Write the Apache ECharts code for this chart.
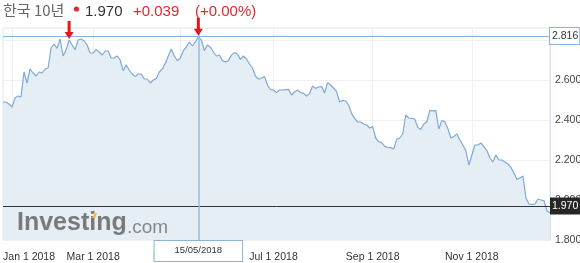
<!DOCTYPE html>
<html><head><meta charset="utf-8">
<script src="https://cdn.jsdelivr.net/npm/echarts@6/dist/echarts.min.js"></script>
<style>html,body{margin:0;padding:0;background:#fff}#c{width:580px;height:263px}</style>
</head><body><div id="c"></div>
<script>
// ---- data ----
const yields = [
  2.49, 2.49, 2.48, 2.465, 2.51, 2.52, 2.515, 2.64, 2.585, 2.655,
  2.635, 2.62, 2.64, 2.635, 2.655, 2.66, 2.76, 2.78, 2.758, 2.805,
  2.72, 2.75, 2.80, 2.775, 2.752, 2.80, 2.805, 2.795, 2.775, 2.735,
  2.735, 2.753, 2.74, 2.725, 2.745, 2.745, 2.71, 2.71, 2.72, 2.70,
  2.647, 2.675, 2.65, 2.63, 2.617, 2.63, 2.63, 2.605, 2.605, 2.585,
  2.60, 2.608, 2.64, 2.655, 2.683, 2.72, 2.755, 2.72, 2.696, 2.71,
  2.747, 2.765, 2.79, 2.77, 2.79, 2.816, 2.80, 2.747, 2.775, 2.764,
  2.74, 2.72, 2.725, 2.697, 2.69, 2.697, 2.725, 2.737, 2.73, 2.703,
  2.72, 2.705, 2.68, 2.66, 2.62, 2.604, 2.61, 2.617, 2.575, 2.552,
  2.55, 2.537, 2.55, 2.55, 2.552, 2.553, 2.525, 2.54, 2.55, 2.537,
  2.533, 2.52, 2.532, 2.57, 2.558, 2.565, 2.567, 2.535, 2.587, 2.575,
  2.56, 2.542, 2.49, 2.498, 2.495, 2.475, 2.432, 2.408, 2.39, 2.39,
  2.38, 2.375, 2.36, 2.367, 2.31, 2.292, 2.287, 2.268, 2.263, 2.262,
  2.255, 2.303, 2.31, 2.33, 2.425, 2.41, 2.408, 2.405, 2.363, 2.353,
  2.38, 2.39, 2.448, 2.446, 2.447, 2.355, 2.397, 2.392, 2.358, 2.31,
  2.317, 2.33, 2.30, 2.275, 2.247, 2.175, 2.225, 2.275, 2.275, 2.285,
  2.267, 2.247, 2.21, 2.19, 2.225, 2.20, 2.20, 2.19, 2.18, 2.163,
  2.135, 2.103, 2.11, 2.12, 2.01, 1.98, 1.978, 1.98, 2.005, 2.00,
  1.997, 1.945, 1.937
];
// dates of the samples: anchor dates and the sample numbers they fall on
const anchorDates   = ['2017-12-26','2018-01-01','2018-03-01','2018-05-01','2018-05-15','2018-07-01','2018-09-01','2018-11-01','2018-12-19'];
const anchorSamples = [0, 3, 30, 59, 65, 90, 123, 156, 182];
const tickDates  = ['2018-01-01','2018-03-01','2018-05-01','2018-07-01','2018-09-01','2018-11-01'];
const tickLabels = ['Jan 1 2018','Mar 1 2018','May 1 2018','Jul 1 2018','Sep 1 2018','Nov 1 2018'];
const crosshairDate  = '2018-05-15';
const crosshairLabel = '15/05/2018';
const highValue = 2.816;
const lastPrice = 1.970;
const arrowSamples = [22, 65];
const titleName = '한국 10년';
const changeText = '+0.039';
const changePctText = '(+0.00%)';

function buildDates() {
  const out = [];
  const DAY = 86400000;
  for (let k = 0; k < anchorDates.length - 1; k++) {
    const d0 = Date.parse(anchorDates[k] + 'T00:00:00Z');
    const d1 = Date.parse(anchorDates[k + 1] + 'T00:00:00Z');
    const i0 = anchorSamples[k], i1 = anchorSamples[k + 1];
    const days = (d1 - d0) / DAY;
    for (let i = i0; i < i1; i++) {
      const t = d0 + Math.round(days * (i - i0) / (i1 - i0)) * DAY;
      out.push(new Date(t).toISOString().slice(0, 10));
    }
  }
  out.push(anchorDates[anchorDates.length - 1]);
  return out;
}
const dates = buildDates();

const chart = echarts.init(document.getElementById('c'), null, {renderer: 'canvas'});
const RED = '#e8262b';
const FONT = 'Arial, "Liberation Sans", sans-serif';
const isTick = (i, v) => tickDates.indexOf(v) >= 0;

chart.setOption({
  animation: false,
  backgroundColor: '#fff',
  textStyle: {fontFamily: FONT},
  grid: {left: 3, right: 30, top: 28, bottom: 23, show: true, borderColor: '#e3e6ee', borderWidth: 1, outerBoundsMode: 'none', containLabel: false},
  xAxis: {
    type: 'category', data: dates, boundaryGap: false,
    axisLine: {show: false}, axisTick: {show: false},
    axisLabel: {
      interval: isTick, color: '#333', fontSize: 10.5, margin: 12, fontFamily: FONT,
      formatter: function (v) {
        const k = tickDates.indexOf(v);
        if (k === 0) return '{first|' + tickLabels[k] + '}';
        return k >= 0 ? tickLabels[k] : '';
      },
      rich: {first: {padding: [0, 0, 0, 34], fontSize: 10.5, color: '#333', fontFamily: FONT}}
    },
    splitLine: {show: true, interval: isTick, lineStyle: {color: '#eef0f4', width: 1}}
  },
  yAxis: {
    type: 'value', position: 'right', min: 1.8, max: 2.86, interval: 0.2,
    axisLine: {show: true, lineStyle: {color: '#dcdfee'}}, axisTick: {show: false},
    axisLabel: {
      color: '#444', fontSize: 10.5, margin: 5, showMaxLabel: false, fontFamily: FONT,
      formatter: v => Math.abs(v - 2.8) < 1e-6 ? '' : v.toFixed(3)
    },
    splitLine: {show: true, lineStyle: {color: '#f0f0f2'}}
  },
  series: [{
    type: 'line', data: yields, symbol: 'none', smooth: false,
    lineStyle: {color: '#7eaad7', width: 1.2},
    areaStyle: {color: '#e5edf5', opacity: 1},
    markLine: {
      symbol: 'none', silent: true, animation: false,
      data: [
        {yAxis: highValue, lineStyle: {color: '#8db3db', width: 1.2, type: 'solid'},
         label: {position: 'end', formatter: highValue.toFixed(3), backgroundColor: '#fff', borderColor: '#8db3db', borderWidth: 1,
                 padding: [3, 1, 2, 2], color: '#333', fontSize: 10.5, distance: 0}},
        {yAxis: lastPrice, lineStyle: {color: '#333', width: 1, type: 'solid'},
         label: {position: 'end', formatter: lastPrice.toFixed(3), backgroundColor: '#262626', color: '#fff',
                 padding: [3, 2, 3, 2], fontSize: 10.5, distance: 0}},
        {xAxis: crosshairDate, lineStyle: {color: '#9dbcdc', width: 1.5, type: 'solid'},
         label: {position: 'start', formatter: crosshairLabel, backgroundColor: '#fff', borderColor: '#8db3db', borderWidth: 1,
                 padding: [4, 20, 6, 20], color: '#333', fontSize: 9.5, distance: 1}}
      ]
    },
    markPoint: {
      silent: true, animation: false,
      symbol: 'path://M3,0L6,0L6,11L9,11L4.5,18L0,11L3,11Z',
      symbolSize: [9, 18], symbolOffset: [0, '-50%'], symbolKeepAspect: false,
      itemStyle: {color: '#e8151b'}, label: {show: false},
      data: arrowSamples.map(i => ({coord: [dates[i], yields[i] + 0.005]}))
    }
  }],
  graphic: [
    {type: 'text', left: 3, top: 3, style: {text: titleName, fontSize: 15, fill: '#666', fontFamily: '"Noto Sans CJK KR", sans-serif'}},
    {type: 'circle', shape: {cx: 76.5, cy: 9, r: 2.6}, style: {fill: RED}},
    {type: 'text', left: 85, top: 4, style: {text: lastPrice.toFixed(3), fontSize: 15, fill: '#333', fontFamily: FONT}},
    {type: 'text', left: 133, top: 4, style: {text: changeText, fontSize: 15, fill: RED, fontFamily: FONT}},
    {type: 'text', left: 195, top: 4, style: {text: changePctText, fontSize: 15, fill: RED, fontFamily: FONT}},
    {type: 'text', left: 17, top: 211, z: 5, style: {text: 'Investing', fontSize: 25, fontWeight: 'bold', fill: '#7a7a7a', fontFamily: FONT}},
    {type: 'text', left: 127, top: 218, z: 5, style: {text: '.com', fontSize: 19, fill: '#888', fontFamily: FONT}},
    {type: 'polygon', z: 6, shape: {points: [[91, 218], [96, 213], [97, 213], [95, 218]]}, style: {fill: '#f2b33d'}}
  ]
});
</script></body></html>
